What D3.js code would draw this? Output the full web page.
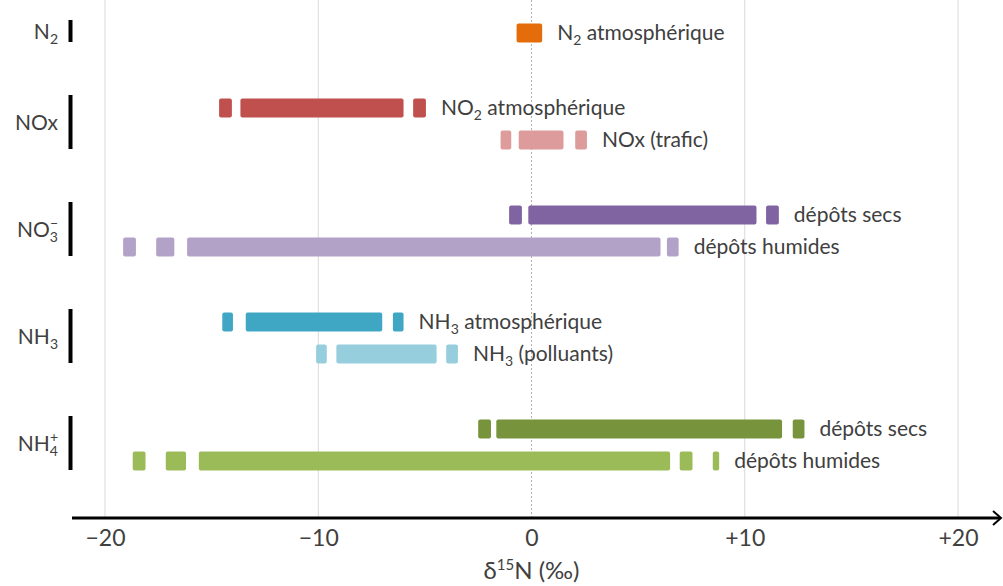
<!DOCTYPE html>
<html>
<head>
<meta charset="utf-8">
<script src="https://cdn.jsdelivr.net/npm/d3@7"></script>
<style>
  body { margin: 0; background: #fff; }
  svg { display: block; font-family: Lato, "Open Sans", sans-serif; }
</style>
</head>
<body>
<svg id="chart" width="1003" height="586"></svg>
<script>
// groups shown on the left, with sub/superscripts
const groups = ["N2", "NOx", "NO3", "NH3", "NH4"];

// one entry per bar row
const seriesNames = ["atmosphérique", "atmosphérique", "NOx (trafic)", "dépôts secs", "dépôts humides",
  "atmosphérique", "(polluants)", "dépôts secs", "dépôts humides"];
const seriesPrefix = [["N", "2"], ["NO", "2"], null, null, null, ["NH", "3"], ["NH", "3"], null, null];
const seriesGroup = ["N2", "NOx", "NOx", "NO3", "NO3", "NH3", "NH3", "NH4", "NH4"];
const seriesRow = [1, 0, 1, 0, 1, 0, 1, 0, 1];

// d15N ranges, pieces of each bar (permil)
const seriesSegments = [
  [[-0.7, 0.5]],
  [[-14.65, -14.05], [-13.65, -6.0], [-5.55, -4.95]],
  [[-1.45, -0.95], [-0.6, 1.5], [2.05, 2.6]],
  [[-1.05, -0.45], [-0.15, 10.55], [11.0, 11.6]],
  [[-19.15, -18.55], [-17.6, -16.75], [-16.15, 6.05], [6.35, 6.9]],
  [[-14.5, -14.0], [-13.4, -7.0], [-6.5, -6.0]],
  [[-10.1, -9.6], [-9.15, -4.45], [-4.0, -3.45]],
  [[-2.5, -1.9], [-1.65, 11.75], [12.25, 12.8]],
  [[-18.7, -18.1], [-17.15, -16.2], [-15.6, 6.5], [6.95, 7.55], [8.5, 8.8]]
];

const xTicks = [-20, -10, 0, 10, 20];
const xTickLabels = ["\u221220", "\u221210", "0", "+10", "+20"];

const colors = ["#e46c0a", "#c0504d", "#dd9c9b", "#8064a2", "#b3a2c7",
  "#3fa7c4", "#96cedd", "#77933c", "#9bbb59"];

const svg = d3.select("#chart");
const axisY = 518;
const textColor = "#404040";
const labelSize = 21;
const subSize = 14;

const x = d3.scaleLinear().domain([-20, 20]).range([105, 958]);

const gy = d3.scaleBand().domain(groups).range([-36.5, 498.5]);
const ry = d3.scalePoint().domain([0, 1]).range([-16, 16]);
const rowY = i => gy(seriesGroup[i]) + gy.bandwidth() / 2 + ry(seriesRow[i]);
const barH = 19;

// grid
svg.append("g").selectAll("line")
  .data(xTicks)
  .join("line")
  .attr("x1", d => x(d)).attr("x2", d => x(d))
  .attr("y1", 0).attr("y2", axisY)
  .attr("stroke", d => d === 0 ? "#b0b0b0" : "#d9d9d9")
  .attr("stroke-width", 1)
  .attr("stroke-dasharray", d => d === 0 ? "2,2" : null);

// bars
seriesSegments.forEach((segs, i) => {
  svg.append("g").selectAll("rect")
    .data(segs)
    .join("rect")
    .attr("x", d => x(d[0]))
    .attr("width", d => x(d[1]) - x(d[0]))
    .attr("y", rowY(i) - barH / 2)
    .attr("height", barH)
    .attr("rx", 2)
    .attr("fill", colors[i]);

  const last = segs[segs.length - 1][1];
  const t = svg.append("text")
    .attr("x", x(last) + 15)
    .attr("y", rowY(i))
    .attr("dy", "0.35em")
    .attr("font-size", labelSize)
    .attr("fill", textColor);
  if (seriesPrefix[i]) {
    t.append("tspan").text(seriesPrefix[i][0]);
    t.append("tspan").attr("font-size", subSize).attr("dy", 5).text(seriesPrefix[i][1]);
    t.append("tspan").attr("dy", -5).text(" " + seriesNames[i]);
  } else {
    t.text(seriesNames[i]);
  }
});

// group markers and labels
groups.forEach(g => {
  const rows = seriesGroup.map((s, i) => s === g ? i : -1).filter(i => i >= 0);
  const top = rowY(rows[0]) - 13;
  const bot = rowY(rows[rows.length - 1]) + 9;
  svg.append("line")
    .attr("x1", 70.5).attr("x2", 70.5)
    .attr("y1", top).attr("y2", bot)
    .attr("stroke", "#000").attr("stroke-width", 4);

  const t = svg.append("text")
    .attr("x", 58)
    .attr("y", (top + bot) / 2 + 1)
    .attr("dy", "0.35em")
    .attr("text-anchor", "end")
    .attr("font-size", labelSize)
    .attr("fill", textColor);
  if (g === "N2") {
    t.append("tspan").text("N");
    t.append("tspan").attr("font-size", subSize).attr("dy", 5).text("2");
  } else if (g === "NOx") {
    t.text("NOx");
  } else if (g === "NO3") {
    t.append("tspan").text("NO");
    t.append("tspan").attr("font-size", subSize).attr("dy", 5).text("3");
    t.append("tspan").attr("font-size", subSize).attr("dx", -8).attr("dy", -14).text("\u2212");
  } else if (g === "NH3") {
    t.append("tspan").text("NH");
    t.append("tspan").attr("font-size", subSize).attr("dy", 5).text("3");
  } else {
    t.append("tspan").text("NH");
    t.append("tspan").attr("font-size", subSize).attr("dy", 5).text("4");
    t.append("tspan").attr("font-size", subSize).attr("dx", -8).attr("dy", -14).text("+");
  }
});

// x axis
const xAxis = d3.axisBottom(x)
  .tickValues(xTicks)
  .tickSize(0)
  .tickPadding(12)
  .tickFormat((d, i) => xTickLabels[i]);

const ax = svg.append("g")
  .attr("transform", "translate(0," + axisY + ")")
  .call(xAxis);
ax.select(".domain").remove();
ax.selectAll("text")
  .attr("font-family", "Lato, 'Open Sans', sans-serif")
  .attr("font-size", 23)
  .attr("fill", textColor);

const xEnd = 1001;
svg.append("line")
  .attr("x1", 72).attr("x2", xEnd - 1)
  .attr("y1", axisY).attr("y2", axisY)
  .attr("stroke", "#000").attr("stroke-width", 3);
svg.append("path")
  .attr("d", "M" + (xEnd - 8) + "," + (axisY - 7) + "L" + xEnd + "," + axisY + "L" + (xEnd - 8) + "," + (axisY + 7))
  .attr("fill", "none")
  .attr("stroke", "#000")
  .attr("stroke-width", 2);

// axis title
const title = svg.append("text")
  .attr("x", x(0))
  .attr("y", 571)
  .attr("dy", "0.35em")
  .attr("text-anchor", "middle")
  .attr("font-size", 24)
  .attr("fill", textColor);
title.append("tspan").text("\u03b4");
title.append("tspan").attr("font-size", 15).attr("dy", -9).text("15");
title.append("tspan").attr("dy", 9).text("N (\u2030)");
</script>
</body>
</html>
